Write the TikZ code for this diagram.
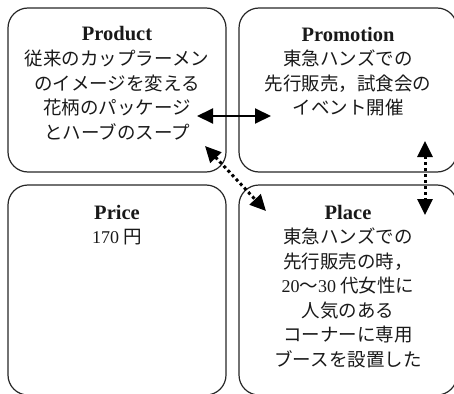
\documentclass[tikz,border=0pt]{standalone}
\usepackage{fontspec}
\setmainfont{Liberation Serif}
\newfontfamily\jpf{Noto Sans CJK JP}
\usetikzlibrary{arrows.meta}
\tikzset{
  box/.style={draw=black!85, line width=1.2pt, rounded corners=20pt, minimum width=218pt, inner sep=0pt},
  txt/.style={align=center, anchor=base, inner sep=0pt, text=black!90, font=\jpf\fontsize{18.5}{24.5}\selectfont},
  tipa/.tip={Triangle[length=16pt,width=15pt]},
  solidarr/.style={line width=2pt, tipa-tipa},
  dotarr/.style={line width=3pt, dash pattern=on 3pt off 3pt, tipa-tipa}
}
\newcommand{\hdr}[1]{{\rmfamily\bfseries\fontsize{20.5}{24.5}\selectfont #1}}
\newcommand{\lat}[1]{{\rmfamily\fontsize{18}{24.5}\selectfont #1}}
\begin{document}
\begin{tikzpicture}[x=1pt, y=-1pt]
\useasboundingbox (0,0) rectangle (454,393);
\clip (0,0) rectangle (454,393);
\node[box, minimum height=164pt] (prod) at (117,90) {};
\node[box, minimum height=164pt] (promo) at (348,90) {};
\node[box, minimum height=210pt] (price) at (117,290) {};
\node[box, minimum height=210pt] (place) at (348,290) {};

% base anchor = baseline of last line
\node[txt] (prodt) at (117,139) {\hdr{Product}\\従来のカップラーメン\\のイメージを変える\\花柄のパッケージ\\とハーブのスープ};
\node[txt] (promot) at (348,114.5) {\hdr{Promotion}\\東急ハンズでの\\先行販売，試食会の\\イベント開催};
\node[txt] (pricet) at (117,243.5) {\hdr{Price}\\\lat{170} 円};
\node[txt] (placet) at (348,366) {\hdr{Place}\\東急ハンズでの\\先行販売の時，\\\lat{20}～\lat{30} 代女性に\\人気のある\\コーナーに専用\\ブースを設置した};

\coordinate (a1) at (197,116);
\coordinate (a2) at (271,116);
\coordinate (b1) at (205,146);
\coordinate (b2) at (266,211);
\coordinate (c1) at (425,141);
\coordinate (c2) at (425,215);
\draw[solidarr] (a1) -- (a2);
\draw[dotarr] (b1) -- (b2);
\draw[dotarr] (c1) -- (c2);
\end{tikzpicture}
\end{document}
